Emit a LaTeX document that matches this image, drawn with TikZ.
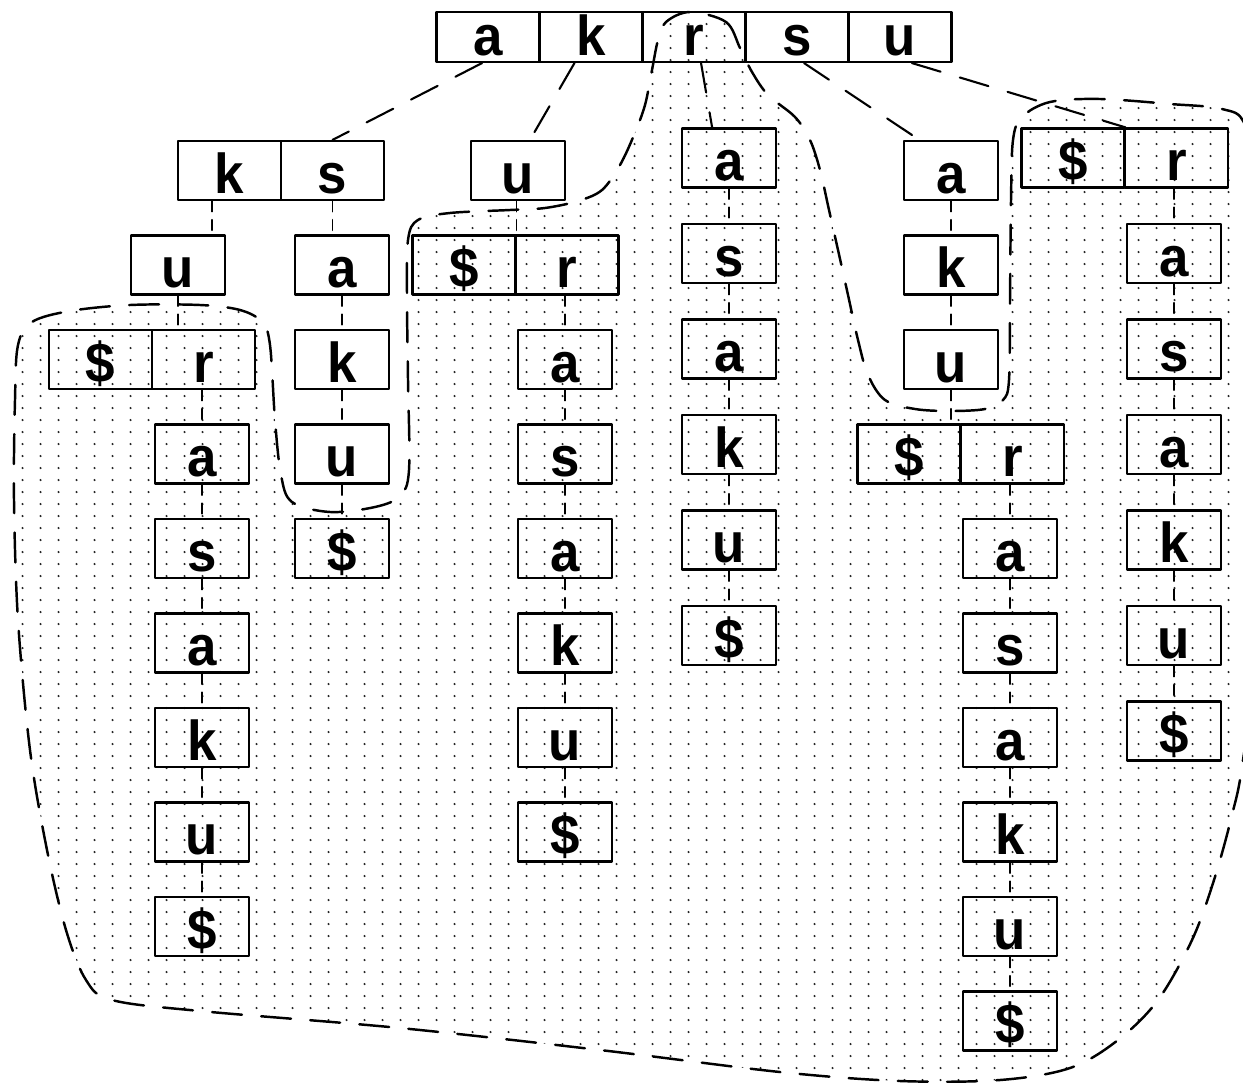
\documentclass[tikz,border=0pt]{standalone}
\usepackage{fontspec}
\setmainfont{Liberation Sans}[FakeStretch=0.94]
\usetikzlibrary{calc,patterns.meta}
\tikzdeclarepattern{
  name=trie dots,
  type=uncolored,
  bottom left={(0pt,0pt)},
  top right={(5.1pt,3.4pt)},
  tile size={(5.1pt,3.4pt)},
  code={\pgfpathcircle{\pgfpoint{1.3pt}{1.7pt}}{0.33pt}\pgfusepath{fill}}
}
\tikzset{
  every picture/.append style={line cap=round,line join=round},
  trie letter/.style={font=\fontsize{16}{18}\selectfont\bfseries,text height=12.8pt,text depth=0pt},
  trie root/.style={draw,line width=0.6pt,minimum width=1.03cm,minimum height=0.5cm,inner sep=0pt,trie letter,text height=10.5pt},
  trie wide/.style={draw,line width=0.6pt,minimum width=1.03cm,minimum height=0.59cm,inner sep=0pt,trie letter},
  trie cell/.style={draw,line width=0.6pt,minimum width=0.94cm,minimum height=0.59cm,inner sep=0pt,trie letter},
  trie edge/.style={line width=0.6pt,dash pattern=on 8.5pt off 5.7pt},
  trie link/.style={line width=0.45pt,dash pattern=on 3pt off 2.3pt},
  trie region/.style={line width=0.7pt,dash pattern=on 8.5pt off 5.5pt,pattern=trie dots,pattern color=black!85}
}

\begin{document}
\begin{tikzpicture}[x=0.01cm,y=-0.01cm]
  \path[use as bounding box] (0,0) rectangle (1243,1085);
  \clip (0,0) rectangle (1243,1085);
  % shaded part
  \draw[trie region] plot[smooth cycle,tension=0.55] coordinates {
    (690,12) (726,22) (740,48) (752,72) (768,95) (795,117) (810,140)
    (820,170) (829,210) (838,250) (848,295) (858,340) (868,375) (885,400)
    (915,409) (950,411) (985,409) (1003,400) (1009,380) (1010,300)
    (1011,200) (1013,140) (1022,117) (1050,102) (1100,99) (1170,104)
    (1222,109) (1245,125) (1260,200) (1262,600) (1243,760) (1232,815)
    (1214,880) (1192,940) (1158,1000) (1118,1040) (1070,1068) (1000,1080)
    (900,1081) (780,1072) (600,1050) (400,1028) (200,1011) (112,1000)
    (86,980) (66,930) (47,850) (30,750) (18,620) (14,500) (15,400)
    (18,345) (32,322) (70,311) (130,305) (200,305) (240,310) (262,322)
    (270,345) (275,420) (281,475) (292,502) (330,512) (375,507)
    (400,496) (409,470) (408,380) (407,300) (408,240) (418,220)
    (450,213) (510,210) (545,208) (578,201) (602,190) (620,165)
    (634,135) (645,105) (652,70) (658,40) (666,22)
  };
  % root
  \foreach \ch [count=\i] in {a,k,r,s,u}
    \node[trie root] (rt\ch) at ({385+103*\i},37) {\ch};
  % a
  \node[trie wide] (ak) at (229.5,170.5) {k};
  \node[trie wide] (as) at (332.5,170.5) {s};
  \node[trie cell] (aku) at (178,265) {u};
  \node[trie wide] (akd) at (100.5,359.5) {\$};
  \node[trie wide] (akr) at (203.5,359.5) {r};
  \foreach \ch [count=\i] in {a,s,a,k,u,\$}
    \node[trie cell] (akr\i) at (202,{359.5+94.5*\i}) {\ch};
  \foreach \ch [count=\i] in {a,k,u,\$}
    \node[trie cell] (as\i) at (342,{170.5+94.5*\i}) {\ch};
  % k
  \node[trie cell] (ku) at (518,170.5) {u};
  \node[trie wide] (kd) at (464,265) {\$};
  \node[trie wide] (kr) at (567,265) {r};
  \foreach \ch [count=\i] in {a,s,a,k,u,\$}
    \node[trie cell] (kr\i) at (565,{265+94.5*\i}) {\ch};
  % r
  \foreach \ch [count=\i] in {a,s,a,k,u,\$}
    \node[trie cell] (r\i) at (729,{62.5+95.5*\i}) {\ch};
  % s
  \foreach \ch [count=\i] in {a,k,u}
    \node[trie cell] (s\i) at (951,{76+94.5*\i}) {\ch};
  \node[trie wide] (sd) at (909,454) {\$};
  \node[trie wide] (sr) at (1012.5,454) {r};
  \foreach \ch [count=\i] in {a,s,a,k,u,\$}
    \node[trie cell] (sr\i) at (1010,{454+94.5*\i}) {\ch};
  % u
  \node[trie wide] (ud) at (1073,158) {\$};
  \node[trie wide] (ur) at (1176.5,158) {r};
  \foreach \ch [count=\i] in {a,s,a,k,u,\$}
    \node[trie cell] (ur\i) at (1174,{158+95.5*\i}) {\ch};

  % edges out of the root
  \draw[trie edge] ([xshift=-1.7pt]rta.south) -- (as.north);
  \draw[trie edge] ([xshift=-4.7pt]rtk.south) -- ([xshift=3.4pt]ku.north);
  \draw[trie edge] ([xshift=2pt]rtr.south) -- ([xshift=-4.8pt]r1.north);
  \draw[trie edge] ([xshift=2pt]rts.south) -- ([xshift=-9pt]s1.north);
  \draw[trie edge] ([xshift=3.4pt]rtu.south) -- (ud.north east);

  % links down the chains
  \coordinate (akt) at ([xshift=-5pt]ak.south);
  \draw[trie link] (akt) -- (akt |- aku.north);
  \draw[trie link] (as.south) -- (as.south |- as1.north);
  \draw[trie link] (aku.south) -- (aku.south |- akd.north);
  \draw[trie link] (akr1.north |- akr.south) -- (akr1.north);
  \draw[trie link] (kd.north east |- ku.south) -- (kd.north east);
  \draw[trie link] (kr1.north |- kr.south) -- (kr1.north);
  \draw[trie link] (s3.south) -- (s3.south |- sd.north);
  \draw[trie link] (sr1.north |- sr.south) -- (sr1.north);
  \draw[trie link] (ur1.north |- ur.south) -- (ur1.north);
  \foreach \col/\n in {akr/6,as/4,kr/6,r/6,s/3,sr/6,ur/6}
    \foreach \i in {2,...,\n}{
      \pgfmathtruncatemacro\h{\i-1}
      \draw[trie link] (\col\h) -- (\col\i);
    }
\end{tikzpicture}
\end{document}
